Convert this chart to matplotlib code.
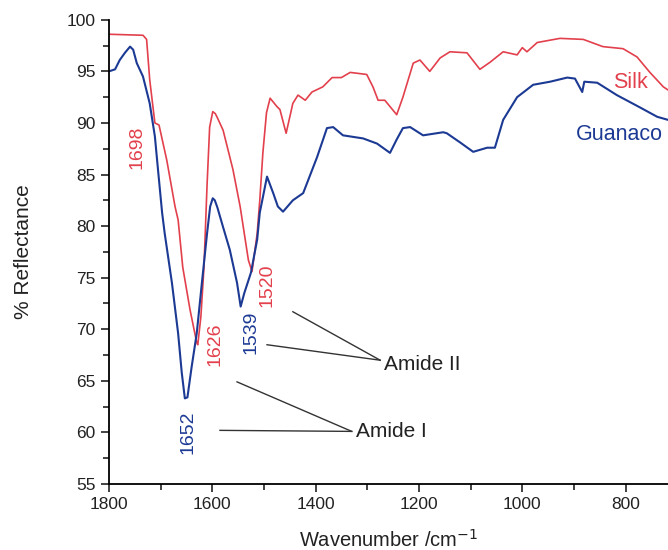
import numpy as np
import matplotlib.pyplot as plt
from matplotlib.ticker import MultipleLocator

plt.rcParams['font.family'] = ['Liberation Sans', 'DejaVu Sans']

# silk spectrum
silk_x = [1800, 1734, 1727, 1721, 1711, 1703, 1688, 1672, 1666, 1657, 1643, 1630, 1628,
          1622, 1616, 1610, 1605, 1599, 1594, 1590, 1579, 1560, 1546, 1538, 1530, 1523,
          1513, 1508, 1502, 1495, 1488, 1475, 1469, 1457, 1444, 1434, 1420, 1407,
          1386, 1368, 1350, 1333, 1301, 1289, 1279, 1266, 1243, 1231, 1211, 1198,
          1179, 1159, 1140, 1107, 1082, 1062, 1037, 1010, 1000, 991, 971, 927, 882,
          844, 805, 778, 753, 727, 718]
silk_y = [98.6, 98.5, 98.1, 94.2, 90.0, 89.8, 86.4, 81.9, 80.6, 76.0, 71.9, 68.7, 68.5,
          71.2, 76.0, 84.0, 89.6, 91.1, 90.9, 90.5, 89.3, 85.5, 81.9, 79.3, 76.7, 75.6,
          79.3, 82.5, 87.1, 91.0, 92.4, 91.6, 91.3, 89.0, 91.9, 92.7, 92.2, 93.0,
          93.5, 94.4, 94.4, 94.9, 94.7, 93.5, 92.2, 92.2, 90.8, 92.5, 95.8, 96.1,
          95.0, 96.3, 96.9, 96.8, 95.2, 95.9, 96.9, 96.6, 97.3, 96.9, 97.8, 98.2, 98.1,
          97.4, 97.2, 96.4, 94.9, 93.5, 93.2]

# guanaco spectrum
guan_x = [1800, 1788, 1779, 1769, 1759, 1753, 1746, 1734, 1721, 1711, 1705, 1697, 1692,
          1678, 1666, 1659, 1653, 1648, 1640, 1630, 1620, 1610, 1604, 1599, 1595, 1590,
          1579, 1566, 1552, 1545, 1538, 1525, 1513, 1508, 1494, 1482, 1473, 1463,
          1444, 1424, 1397, 1378, 1366, 1347, 1308, 1281, 1256, 1243, 1231, 1217,
          1192, 1153, 1146, 1120, 1095, 1068, 1053, 1037, 1010, 979, 946, 913, 898,
          884, 880, 855, 817, 772, 739, 718]
guan_y = [95.0, 95.2, 96.1, 96.8, 97.4, 97.1, 95.8, 94.5, 91.9, 88.7, 85.5, 81.3, 79.3,
          74.5, 69.6, 65.8, 63.3, 63.4, 66.3, 69.6, 74.5, 79.3, 81.9, 82.7, 82.5, 81.8,
          79.9, 77.7, 74.5, 72.2, 73.5, 75.5, 78.7, 81.3, 84.8, 83.2, 81.9, 81.4,
          82.5, 83.2, 86.7, 89.5, 89.6, 88.8, 88.5, 88.0, 87.1, 88.4, 89.5, 89.6,
          88.8, 89.1, 89.0, 88.1, 87.2, 87.6, 87.6, 90.3, 92.5, 93.7, 94.0, 94.4, 94.3,
          93.0, 94.0, 93.9, 92.7, 91.5, 90.6, 90.3]

red = '#e2404c'
blue = '#1c3a94'

fig = plt.figure(figsize=(6.68, 5.5), dpi=100)
ax = fig.add_axes([0.163, 0.12, 0.837, 0.844])
ax.plot(silk_x, silk_y, color=red, lw=1.2)
ax.plot(guan_x, guan_y, color=blue, lw=1.5)

ax.set_xlim(1800, 718)
ax.set_ylim(55, 100)
ax.xaxis.set_major_locator(MultipleLocator(200))
ax.xaxis.set_minor_locator(MultipleLocator(100))
ax.yaxis.set_major_locator(MultipleLocator(5))
ax.yaxis.set_minor_locator(MultipleLocator(2.5))
ax.spines['top'].set_visible(False)
ax.spines['right'].set_visible(False)
ax.spines['left'].set_linewidth(1.3)
ax.spines['bottom'].set_linewidth(1.3)
ax.tick_params(which='major', length=6, width=1.2, labelsize=12.5, colors='#222222')
ax.tick_params(which='minor', length=4, width=1.2, colors='#222222')
ax.set_xlabel('Wavenumber /cm$^{-1}$', fontsize=14.5, labelpad=12, color='#222222')
ax.set_ylabel('% Reflectance', fontsize=15, labelpad=24, color='#222222')

# peak labels
kw = dict(rotation=90, ha='center', va='center', fontsize=14)
ax.text(1746, 87.6, '1698', color=red, **kw)
ax.text(1647, 60.0, '1652', color=blue, **kw)
ax.text(1595, 68.5, '1626', color=red, **kw)
ax.text(1525, 69.7, '1539', color=blue, **kw)
ax.text(1494, 74.3, '1520', color=red, **kw)
ax.text(790, 93.9, 'Silk', color=red, ha='center', va='center', fontsize=15.5)
ax.text(813, 88.9, 'Guanaco', color=blue, ha='center', va='center', fontsize=15.5)

# amide annotations
ax.plot([1444, 1275], [71.7, 67.0], color='#333333', lw=1)
ax.plot([1494, 1275], [68.5, 67.0], color='#333333', lw=1)
ax.text(1268, 66.6, 'Amide II', ha='left', va='center', fontsize=15, color='#222222')
ax.plot([1552, 1330], [64.9, 60.1], color='#333333', lw=1)
ax.plot([1585, 1330], [60.2, 60.1], color='#333333', lw=1)
ax.text(1322, 60.1, 'Amide I', ha='left', va='center', fontsize=15, color='#222222')

fig.savefig('out.png', dpi=100)
